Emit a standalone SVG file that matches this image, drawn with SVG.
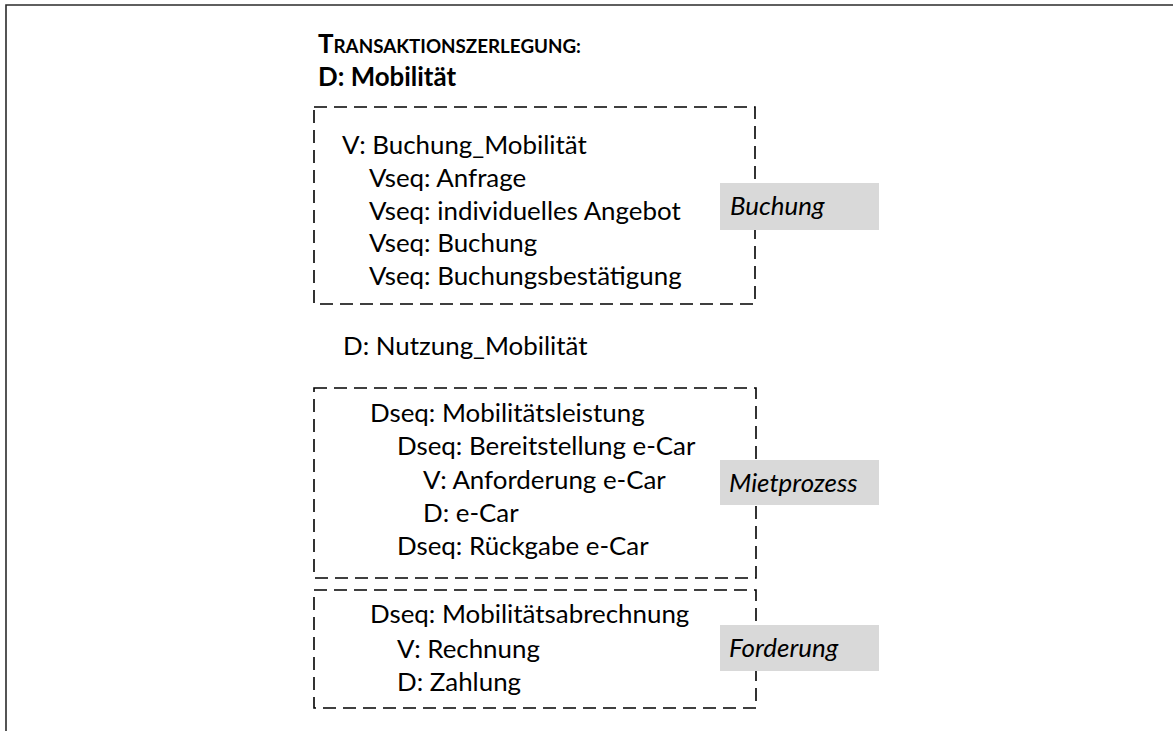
<svg xmlns="http://www.w3.org/2000/svg" width="1173" height="731" viewBox="0 0 1173 731">
<style>
.t{font-family:Lato,"Liberation Sans",sans-serif;font-size:25.9px;fill:#000}
.b{font-weight:bold}
.i{font-style:italic}
.box{fill:none;stroke:#000;stroke-width:1.6;stroke-dasharray:13 7}
.lab{fill:#d9d9d9}
.frame{fill:none;stroke:#2b2b2b;stroke-width:1.6}
</style>
<rect width="1173" height="731" fill="#fff"/>
<polyline class="frame" points="6,731 6,5 1173,5"/>
<g id="title">
<text class="t b" x="318" y="53" font-size="24">T<tspan font-size="18.8">RANSAKTIONSZERLEGUNG:</tspan></text>
<text class="t b" x="318" y="86" font-size="25.5">D: Mobilität</text>
</g>
<g id="buchung">
<rect class="box" x="314" y="107" width="441" height="197"/>
<text class="t" x="342" y="154">V: Buchung_Mobilität</text>
<text class="t" x="369" y="187">Vseq: Anfrage</text>
<text class="t" x="369" y="219.5">Vseq: individuelles Angebot</text>
<text class="t" x="369" y="252">Vseq: Buchung</text>
<text class="t" x="369" y="285">Vseq: Buchungsbestätigung</text>
<rect class="lab" x="720" y="183" width="159" height="47"/>
<text class="t i" x="730" y="215">Buchung</text>
</g>
<g id="nutzung">
<text class="t" x="343" y="355">D: Nutzung_Mobilität</text>
</g>
<g id="mietprozess">
<rect class="box" x="314" y="388" width="442" height="190"/>
<text class="t" x="370" y="422">Dseq: Mobilitätsleistung</text>
<text class="t" x="397" y="455">Dseq: Bereitstellung e-Car</text>
<text class="t" x="423" y="488.5">V: Anforderung e-Car</text>
<text class="t" x="423" y="522">D: e-Car</text>
<text class="t" x="397" y="555">Dseq: Rückgabe e-Car</text>
<rect class="lab" x="720" y="460" width="159" height="45"/>
<text class="t i" x="729" y="492">Mietprozess</text>
</g>
<g id="forderung">
<rect class="box" x="314" y="590" width="442" height="118"/>
<text class="t" x="370" y="623">Dseq: Mobilitätsabrechnung</text>
<text class="t" x="397" y="658">V: Rechnung</text>
<text class="t" x="397" y="691">D: Zahlung</text>
<rect class="lab" x="720" y="625" width="159" height="46"/>
<text class="t i" x="729" y="657">Forderung</text>
</g>
<g id="connectors"/>
</svg>
